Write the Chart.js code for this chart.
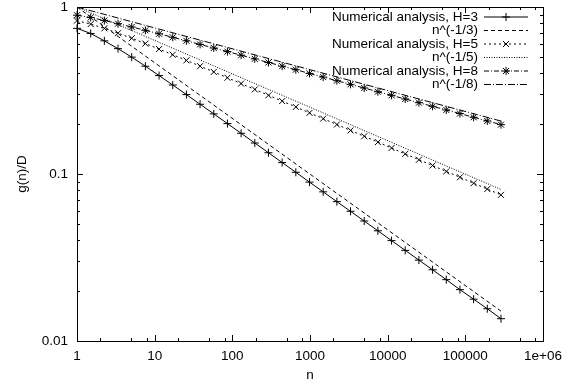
<!DOCTYPE html>
<html>
<head>
<meta charset="utf-8">
<script src="https://cdn.jsdelivr.net/npm/chart.js@4/dist/chart.umd.min.js"></script>
<style>
  body { margin: 0; background: #fff; }
  #wrap { width: 574px; height: 383px; position: relative; }
</style>
</head>
<body>
<div id="wrap"><canvas id="gChart"></canvas></div>
<script>
// sample points n (1.5^k)
var nValues = [1, 1.5, 2.25, 3.375, 5.063, 7.594, 11.39, 17.09, 25.63, 38.44, 57.67, 86.5,
  129.7, 194.6, 291.9, 437.9, 656.8, 985.3, 1478, 2217, 3325, 4988, 7482, 11223,
  16834, 25251, 37877, 56815, 85223, 127834, 191751, 287627];

var numH3 = [0.745, 0.694, 0.627, 0.563, 0.501, 0.442, 0.3885, 0.341, 0.299, 0.2616, 0.2291, 0.2004,
  0.1753, 0.1533, 0.1341, 0.1171, 0.1024, 0.0894, 0.0782, 0.0683, 0.0598, 0.0523, 0.0457, 0.0399,
  0.0349, 0.0305, 0.0267, 0.0233, 0.0203, 0.0178, 0.0156, 0.0136];
var numH5 = [0.829, 0.790, 0.745, 0.697, 0.650, 0.604, 0.560, 0.518, 0.479, 0.4425, 0.4085, 0.3771,
  0.3478, 0.3210, 0.2960, 0.2733, 0.2520, 0.2323, 0.2145, 0.1978, 0.1824, 0.1682, 0.1552, 0.1431,
  0.1319, 0.1217, 0.1124, 0.1036, 0.0956, 0.0881, 0.0813, 0.0750];
var numH8 = [0.893, 0.865, 0.8295, 0.7946, 0.7593, 0.725, 0.6913, 0.6586, 0.6274, 0.5970, 0.5682, 0.5406,
  0.5145, 0.4890, 0.4654, 0.4424, 0.4210, 0.4002, 0.3804, 0.3620, 0.3441, 0.3272, 0.3109, 0.2959,
  0.2813, 0.2674, 0.2542, 0.2419, 0.2300, 0.2186, 0.2078, 0.1975];

// power law lines (end points)
var powN = [1, 287627];
var pow3 = [1, 0.0151];
var pow5 = [1, 0.0808];
var pow8 = [1, 0.2075];

var xTickLabels = ['1', '10', '100', '1000', '10000', '100000', '1e+06'];
var xTickValues = [1, 10, 100, 1000, 10000, 100000, 1000000];
var yTickLabels = ['0.01', '0.1', '1'];
var yTickValues = [0.01, 0.1, 1];

var FONT = '13.5px "Liberation Sans", Arial, sans-serif';

function pts(xs, ys) {
  var out = [];
  for (var i = 0; i < xs.length; i++) out.push({x: xs[i], y: ys[i]});
  return out;
}

function drawMarker(ctx, style, x, y, r) {
  ctx.beginPath();
  if (style === 'cross' || style === 'star') {
    ctx.moveTo(x - r, y); ctx.lineTo(x + r, y);
    ctx.moveTo(x, y - r); ctx.lineTo(x, y + r);
  }
  if (style === 'crossRot' || style === 'star') {
    var d = r * 0.75;
    ctx.moveTo(x - d, y - d); ctx.lineTo(x + d, y + d);
    ctx.moveTo(x - d, y + d); ctx.lineTo(x + d, y - d);
  }
  ctx.stroke();
}

// gnuplot like frame, inward ticks, labels and key
var gnuFrame = {
  id: 'gnuFrame',
  afterDraw: function(chart) {
    var ctx = chart.ctx;
    var a = chart.chartArea;
    var xs = chart.scales.x, ys = chart.scales.y;
    ctx.save();
    ctx.strokeStyle = '#000';
    ctx.lineWidth = 1;
    ctx.setLineDash([]);
    ctx.strokeRect(a.left + 0.5, a.top + 0.5, a.right - a.left, a.bottom - a.top);

    ctx.beginPath();
    xTickValues.forEach(function(v, i) {
      var px = Math.round(xs.getPixelForValue(v)) + 0.5;
      ctx.moveTo(px, a.bottom); ctx.lineTo(px, a.bottom - 6);
      ctx.moveTo(px, a.top); ctx.lineTo(px, a.top + 6);
      if (i < xTickValues.length - 1) {
        [2, 5, 8].forEach(function(m) {
          var q = Math.round(xs.getPixelForValue(v * m)) + 0.5;
          ctx.moveTo(q, a.bottom); ctx.lineTo(q, a.bottom - 3);
          ctx.moveTo(q, a.top); ctx.lineTo(q, a.top + 3);
        });
      }
    });
    yTickValues.forEach(function(v, i) {
      var py = Math.round(ys.getPixelForValue(v)) + 0.5;
      ctx.moveTo(a.left, py); ctx.lineTo(a.left + 6, py);
      ctx.moveTo(a.right, py); ctx.lineTo(a.right - 6, py);
      if (i < yTickValues.length - 1) {
        for (var m = 2; m <= 9; m++) {
          var q = Math.round(ys.getPixelForValue(v * m)) + 0.5;
          ctx.moveTo(a.left, q); ctx.lineTo(a.left + 3, q);
          ctx.moveTo(a.right, q); ctx.lineTo(a.right - 3, q);
        }
      }
    });
    ctx.stroke();

    ctx.fillStyle = '#000';
    ctx.font = FONT;
    ctx.textAlign = 'center';
    ctx.textBaseline = 'middle';
    xTickValues.forEach(function(v, i) {
      ctx.fillText(xTickLabels[i], xs.getPixelForValue(v), a.bottom + 15);
    });
    ctx.textAlign = 'right';
    yTickValues.forEach(function(v, i) {
      ctx.fillText(yTickLabels[i], a.left - 9, ys.getPixelForValue(v));
    });
    ctx.textAlign = 'center';
    ctx.fillText('n', (a.left + a.right) / 2, a.bottom + 34);
    ctx.save();
    ctx.translate(22, (a.top + a.bottom) / 2);
    ctx.rotate(-Math.PI / 2);
    ctx.fillText('g(n)/D', 0, 0);
    ctx.restore();

    // key
    chart.data.datasets.forEach(function(ds, i) {
      var y = 17 + i * 13.5;
      ctx.textAlign = 'right';
      ctx.fillText(ds.label, 478, y);
      ctx.setLineDash(ds.borderDash || []);
      ctx.beginPath();
      ctx.moveTo(484, y); ctx.lineTo(528, y);
      ctx.stroke();
      ctx.setLineDash([]);
      if (ds.pointRadius > 0) drawMarker(ctx, ds.pointStyle, 506, y, ds.pointRadius);
    });
    ctx.restore();
  }
};

var markerPlugin = {
  id: 'markerPlugin',
  afterDatasetsDraw: function(chart) {
    var ctx = chart.ctx;
    ctx.save();
    ctx.strokeStyle = '#000';
    ctx.lineWidth = 1;
    chart.data.datasets.forEach(function(ds, i) {
      if (!ds.pointRadius) return;
      chart.getDatasetMeta(i).data.forEach(function(p) {
        drawMarker(ctx, ds.pointStyle, p.x, p.y, ds.pointRadius);
      });
    });
    ctx.restore();
  }
};

function series(label, xs, ys, dash, style) {
  return {
    label: label,
    data: pts(xs, ys),
    borderColor: '#000',
    backgroundColor: '#000',
    borderWidth: 1,
    borderDash: dash,
    pointRadius: style ? 4 : 0,
    pointStyle: style || 'circle',
    // markers drawn by markerPlugin
    pointBorderWidth: 0,
    pointHoverRadius: 0,
    tension: 0,
    fill: false
  };
}

var ctx = document.getElementById('gChart').getContext('2d');
var chart = new Chart(ctx, {
  type: 'line',
  data: {
    datasets: [
      series('Numerical analysis, H=3', nValues, numH3, [], 'cross'),
      series('n^(-1/3)', powN, pow3, [4, 3], null),
      series('Numerical analysis, H=5', nValues, numH5, [2, 3], 'crossRot'),
      series('n^(-1/5)', powN, pow5, [1, 1.5], null),
      series('Numerical analysis, H=8', nValues, numH8, [5, 2, 1, 2], 'star'),
      series('n^(-1/8)', powN, pow8, [7, 2, 1, 2], null)
    ]
  },
  options: {
    responsive: true,
    maintainAspectRatio: false,
    animation: false,
    layout: { padding: { left: 77, right: 31, top: 7, bottom: 42 } },
    plugins: { legend: { display: false }, tooltip: { enabled: false } },
    elements: { point: { radius: 0 } },
    scales: {
      x: { type: 'logarithmic', min: 1, max: 1000000, display: false },
      y: { type: 'logarithmic', min: 0.01, max: 1, display: false }
    }
  },
  plugins: [markerPlugin, gnuFrame]
});
</script>
</body>
</html>
